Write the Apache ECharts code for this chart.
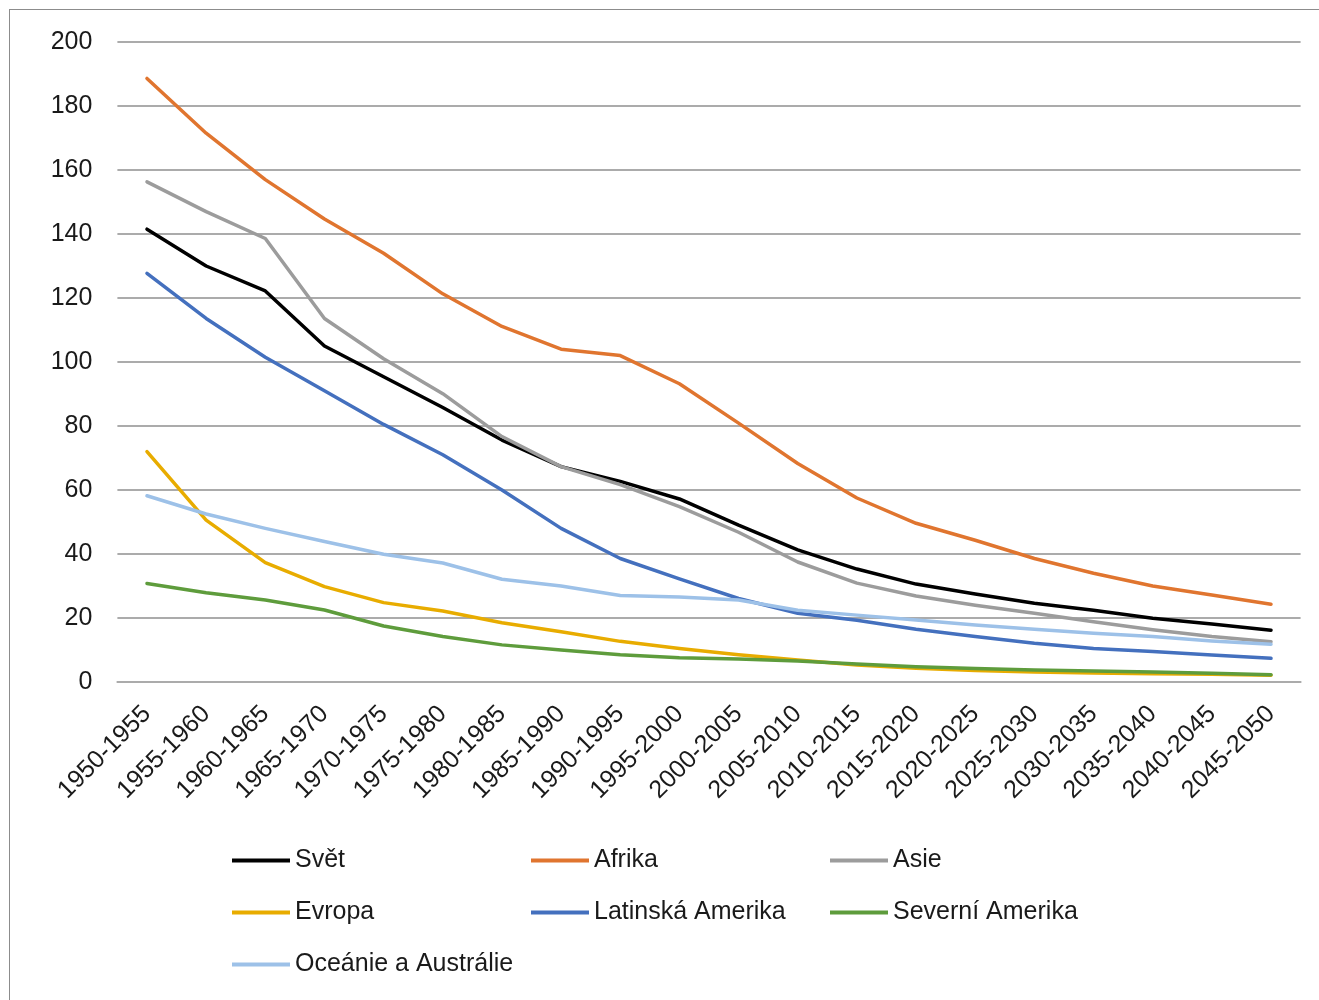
<!DOCTYPE html>
<html>
<head>
<meta charset="utf-8">
<script src="https://cdn.jsdelivr.net/npm/echarts@6/dist/echarts.min.js"></script>
<style>
  html, body { margin: 0; padding: 0; background: #fff; }
  #frame { position: absolute; left: 9px; top: 9px; width: 1310px; height: 991px;
           border-left: 1px solid #8c8c8c; border-top: 1px solid #8c8c8c; }
  #chart { position: absolute; left: 0; top: 0; width: 1319px; height: 1000px; }
</style>
</head>
<body>
<div id="frame"></div>
<div id="chart"></div>
<script>
// Five-year periods
const periods = ['1950-1955','1955-1960','1960-1965','1965-1970','1970-1975','1975-1980',
  '1980-1985','1985-1990','1990-1995','1995-2000','2000-2005','2005-2010','2010-2015',
  '2015-2020','2020-2025','2025-2030','2030-2035','2035-2040','2040-2045','2045-2050'];

// Values per region
const svet      = [141.5,130,122.2,105,95.4,85.8,75.6,67.3,62.7,57.2,49,41.3,35.3,30.6,27.5,24.6,22.4,19.9,18.1,16.2];
const afrika    = [188.6,171.5,157,144.7,134,121.3,111.1,104,102,93.2,80.9,68.3,57.5,49.6,44.3,38.6,34,30,27.2,24.3];
const asie      = [156.3,147,138.6,113.6,101,90.1,76.7,67.3,61.7,54.8,46.8,37.5,30.9,26.9,24,21.5,18.8,16.3,14.2,12.6];
const evropa    = [72,50.6,37.3,29.8,24.8,22.2,18.5,15.7,12.7,10.5,8.5,6.9,5.3,4.3,3.6,3.1,2.8,2.6,2.4,2.1];
const latAm     = [127.7,113.6,101.5,91,80.5,71,60,48,38.6,32.2,26.1,21.5,19.3,16.5,14.2,12.1,10.5,9.5,8.4,7.4];
const sevAm     = [30.8,27.9,25.6,22.5,17.5,14.2,11.6,10,8.5,7.6,7.2,6.6,5.6,4.8,4.2,3.75,3.4,3.1,2.7,2.3];
const oceanie   = [58.2,52.5,48,43.9,39.9,37.2,32.1,30,27,26.6,25.6,22.4,20.9,19.4,17.8,16.5,15.2,14.2,12.8,11.8];

const seriesDefs = [
  { name: 'Svět', data: svet, color: '#000000' },
  { name: 'Afrika', data: afrika, color: '#E0752F' },
  { name: 'Asie', data: asie, color: '#9C9C9C' },
  { name: 'Evropa', data: evropa, color: '#E8AC00' },
  { name: 'Latinská Amerika', data: latAm, color: '#4470BE' },
  { name: 'Severní Amerika', data: sevAm, color: '#5E9C3C' },
  { name: 'Oceánie a Austrálie', data: oceanie, color: '#9DC1E8' }
];

// Legend columns
const legendCols = [
  ['Svět', 'Evropa', 'Oceánie a Austrálie'],
  ['Afrika', 'Latinská Amerika'],
  ['Asie', 'Severní Amerika']
];
const legendLeft = [232, 531, 830];

const font = "'Liberation Sans', Arial, sans-serif";

const chart = echarts.init(document.getElementById('chart'));
chart.setOption({
  animation: false,
  backgroundColor: 'transparent',
  grid: { left: 117.4, right: 18.4, top: 42, bottom: 318, containLabel: false },
  xAxis: {
    type: 'category',
    data: periods,
    boundaryGap: true,
    axisLine: { show: true, lineStyle: { color: '#ababab', width: 2 } },
    axisTick: { show: false },
    axisLabel: { rotate: 45, interval: 0, margin: 28, color: '#1a1a1a', fontSize: 25, fontFamily: font }
  },
  yAxis: {
    type: 'value',
    min: 0, max: 200, interval: 20,
    axisLine: { show: false },
    axisTick: { show: false },
    axisLabel: { margin: 25, color: '#1a1a1a', fontSize: 25, fontFamily: font },
    splitLine: { lineStyle: { color: '#ababab', width: 2 } }
  },
  legend: legendCols.map((col, i) => ({
    data: col,
    orient: 'vertical',
    left: legendLeft[i],
    top: 846,
    icon: 'rect',
    itemWidth: 58,
    itemHeight: 4,
    itemGap: 23,
    padding: 0,
    textStyle: { fontSize: 25, fontFamily: font, color: '#1a1a1a', lineHeight: 29 }
  })),
  series: seriesDefs.map(s => ({
    name: s.name,
    type: 'line',
    data: s.data,
    symbol: 'none',
    showSymbol: false,
    smooth: false,
    color: s.color,
    lineStyle: { width: 3.5, color: s.color, join: 'round', cap: 'round' }
  }))
});
</script>
</body>
</html>
